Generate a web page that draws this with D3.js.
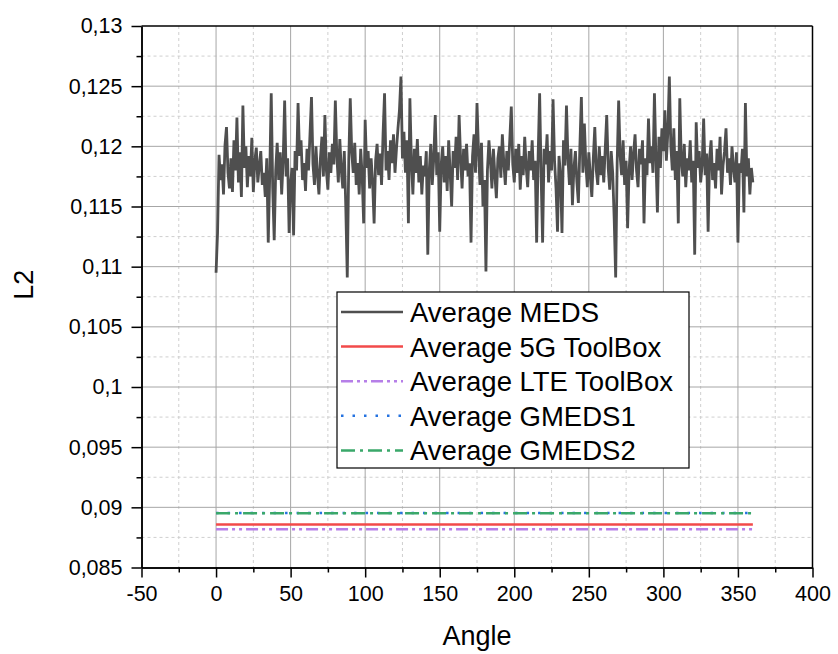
<!DOCTYPE html>
<html>
<head>
<meta charset="utf-8">
<script src="https://cdn.jsdelivr.net/npm/d3@7"></script>
<style>
  body { margin: 0; background: #fff; overflow: hidden; }
  svg { display: block; }
  svg text { font-family: Arial, "Liberation Sans", sans-serif; fill: #000; }
  .grid-major line { stroke: #a6a6a6; stroke-width: 1; }
  .grid-minor line { stroke: #cfcfcf; stroke-width: 1; stroke-dasharray: 3,3; }
</style>
</head>
<body>
<div id="chart"></div>
<script>
// valori
const xTicks = [-50, 0, 50, 100, 150, 200, 250, 300, 350, 400];
const yTicks = [0.085, 0.09, 0.095, 0.1, 0.105, 0.11, 0.115, 0.12, 0.125, 0.13];

// Average MEDS, un valore per grado (0..360)
const medsValues = [
  0.1095, 0.1128, 0.1193, 0.1172, 0.1185, 0.1160, 0.1201, 0.1216, 0.1178, 0.1165,
  0.1190, 0.1162, 0.1205, 0.1180, 0.1224, 0.1170, 0.1195, 0.1158, 0.1234, 0.1182,
  0.1200, 0.1166, 0.1192, 0.1175, 0.1207, 0.1162, 0.1188, 0.1199, 0.1170, 0.1184,
  0.1196, 0.1168, 0.1178, 0.1158, 0.1190, 0.1120, 0.1176, 0.1244, 0.1165, 0.1122,
  0.1180, 0.1203, 0.1172, 0.1195, 0.1160, 0.1188, 0.1238, 0.1175, 0.1190, 0.1128,
  0.1170, 0.1182, 0.1126, 0.1196, 0.1180, 0.1236, 0.1192, 0.1205, 0.1172, 0.1186,
  0.1163, 0.1198, 0.1180, 0.1210, 0.1241, 0.1185, 0.1168, 0.1200, 0.1176, 0.1160,
  0.1190, 0.1208, 0.1175, 0.1226, 0.1180, 0.1164, 0.1195, 0.1178, 0.1202, 0.1185,
  0.1238, 0.1192, 0.1170, 0.1206, 0.1180, 0.1165, 0.1196, 0.1150, 0.1091, 0.1188,
  0.1240, 0.1195, 0.1178, 0.1203, 0.1168, 0.1186, 0.1160, 0.1198, 0.1175, 0.1136,
  0.1222, 0.1182, 0.1196, 0.1165, 0.1190, 0.1170, 0.1136, 0.1188, 0.1202, 0.1176,
  0.1194, 0.1168, 0.1210, 0.1244, 0.1180, 0.1196, 0.1172, 0.1205, 0.1186, 0.1210,
  0.1178, 0.1198, 0.1215, 0.1230, 0.1258, 0.1190, 0.1212, 0.1178, 0.1205, 0.1136,
  0.1240, 0.1188, 0.1160, 0.1198, 0.1178, 0.1206, 0.1170, 0.1192, 0.1160, 0.1184,
  0.1175, 0.1196, 0.1110, 0.1180, 0.1202, 0.1168, 0.1190, 0.1226, 0.1176, 0.1195,
  0.1129, 0.1185, 0.1200, 0.1170, 0.1192, 0.1163, 0.1205, 0.1178, 0.1150, 0.1196,
  0.1182, 0.1208, 0.1172, 0.1226, 0.1190, 0.1165, 0.1198, 0.1180, 0.1202, 0.1175,
  0.1186, 0.1120, 0.1192, 0.1210, 0.1178, 0.1236, 0.1196, 0.1168, 0.1203, 0.1150,
  0.1172, 0.1096, 0.1180, 0.1205, 0.1188, 0.1165, 0.1198, 0.1176, 0.1157, 0.1190,
  0.1200, 0.1174, 0.1210, 0.1186, 0.1168, 0.1196, 0.1180, 0.1206, 0.1233, 0.1185,
  0.1170, 0.1198, 0.1178, 0.1202, 0.1164, 0.1192, 0.1176, 0.1208, 0.1183, 0.1166,
  0.1196, 0.1180, 0.1205, 0.1172, 0.1188, 0.1120, 0.1192, 0.1244, 0.1176, 0.1120,
  0.1198, 0.1185, 0.1210, 0.1170, 0.1196, 0.1180, 0.1239, 0.1188, 0.1165, 0.1129,
  0.1192, 0.1176, 0.1128, 0.1205, 0.1184, 0.1234, 0.1190, 0.1168, 0.1198, 0.1151,
  0.1182, 0.1196, 0.1170, 0.1153, 0.1200, 0.1241, 0.1178, 0.1219, 0.1185, 0.1166,
  0.1195, 0.1175, 0.1158, 0.1190, 0.1216, 0.1180, 0.1168, 0.1200, 0.1176, 0.1192,
  0.1170, 0.1198, 0.1226, 0.1182, 0.1164, 0.1196, 0.1178, 0.1140, 0.1091, 0.1186,
  0.1238, 0.1192, 0.1176, 0.1205, 0.1168, 0.1188, 0.1132, 0.1180, 0.1200, 0.1172,
  0.1194, 0.1210, 0.1180, 0.1166, 0.1198, 0.1185, 0.1205, 0.1136, 0.1190, 0.1176,
  0.1223, 0.1186, 0.1200, 0.1178, 0.1244, 0.1190, 0.1145, 0.1208, 0.1182, 0.1215,
  0.1196, 0.1230, 0.1188, 0.1212, 0.1258, 0.1200, 0.1180, 0.1215, 0.1172, 0.1196,
  0.1136, 0.1240, 0.1188, 0.1175, 0.1202, 0.1166, 0.1190, 0.1180, 0.1205, 0.1170,
  0.1188, 0.1110, 0.1220, 0.1182, 0.1196, 0.1170, 0.1185, 0.1223, 0.1176, 0.1194,
  0.1129, 0.1190, 0.1205, 0.1172, 0.1186, 0.1165, 0.1198, 0.1180, 0.1208, 0.1160,
  0.1184, 0.1196, 0.1215, 0.1178, 0.1190, 0.1168, 0.1200, 0.1182, 0.1170, 0.1195,
  0.1120, 0.1186, 0.1178, 0.1198, 0.1145, 0.1236, 0.1175, 0.1190, 0.1160, 0.1182,
  0.1170
];

// medie costanti (linee orizzontali da 0 a 360)
const avgRange = [0, 360];
const avgNames = ['Average 5G ToolBox', 'Average LTE ToolBox', 'Average GMEDS1', 'Average GMEDS2'];
const avgValues = [0.08858, 0.08817, 0.08952, 0.0895];

const seriesStyle = [
  { name: 'Average MEDS', color: '#4f4f4f', dash: null, width: 2.8 },
  { name: avgNames[0], color: '#f24a4a', dash: null, width: 2.5 },
  { name: avgNames[1], color: '#b67fe8', dash: '12,4,3,4,3,4', width: 2.5 },
  { name: avgNames[2], color: '#2472e0', dash: '2.5,9', width: 2.5 },
  { name: avgNames[3], color: '#3aa86a', dash: '14,5,3,5', width: 2.5 }
];

const width = 838, height = 654;
const margin = { top: 26, right: 25.5, bottom: 86.5, left: 141.5 };
const innerWidth = width - margin.left - margin.right;
const innerHeight = height - margin.top - margin.bottom;

const svg = d3.select('#chart').append('svg')
    .attr('width', width)
    .attr('height', height);
const g = svg.append('g').attr('transform', `translate(${margin.left},${margin.top})`);

const x = d3.scaleLinear().domain([-50, 400]).range([0, innerWidth]);
const y = d3.scaleLinear().domain([0.085, 0.13]).range([innerHeight, 0]);

// tacche minori a metà
const xMinor = xTicks.slice(0, -1).map((d, i) => (d + xTicks[i + 1]) / 2);
const yMinor = yTicks.slice(0, -1).map((d, i) => (d + yTicks[i + 1]) / 2);

// griglia
const gMinor = g.append('g').attr('class', 'grid-minor');
gMinor.selectAll('.vx').data(xMinor).join('line')
    .attr('x1', d => x(d)).attr('x2', d => x(d)).attr('y1', 0).attr('y2', innerHeight);
gMinor.selectAll('.hy').data(yMinor).join('line')
    .attr('y1', d => y(d)).attr('y2', d => y(d)).attr('x1', 0).attr('x2', innerWidth);
const gMajor = g.append('g').attr('class', 'grid-major');
gMajor.selectAll('.vx').data(xTicks.slice(1, -1)).join('line')
    .attr('x1', d => x(d)).attr('x2', d => x(d)).attr('y1', 0).attr('y2', innerHeight);
gMajor.selectAll('.hy').data(yTicks.slice(1, -1)).join('line')
    .attr('y1', d => y(d)).attr('y2', d => y(d)).attr('x1', 0).attr('x2', innerWidth);

// serie
const line = d3.line().x(d => x(d[0])).y(d => y(d[1]));
g.append('path')
    .datum(medsValues.map((v, i) => [i, v]))
    .attr('fill', 'none')
    .attr('stroke', seriesStyle[0].color)
    .attr('stroke-width', seriesStyle[0].width)
    .attr('stroke-linejoin', 'miter')
    .attr('d', line);

avgValues.forEach((v, i) => {
    const s = seriesStyle[i + 1];
    g.append('path')
        .datum(avgRange.map(a => [a, v]))
        .attr('fill', 'none')
        .attr('stroke', s.color)
        .attr('stroke-width', s.width)
        .attr('stroke-dasharray', s.dash)
        .attr('d', line);
});

// cornice
g.append('line').attr('x1', 0).attr('x2', innerWidth).attr('y1', 0).attr('y2', 0)
    .attr('stroke', '#000').attr('stroke-width', 1.5);
g.append('line').attr('x1', innerWidth).attr('x2', innerWidth).attr('y1', 0).attr('y2', innerHeight)
    .attr('stroke', '#000').attr('stroke-width', 1.5);

// assi
const fmt = d => String(+d.toFixed(3)).replace('.', ',');
const xAxis = g.append('g').attr('transform', `translate(0,${innerHeight})`)
    .call(d3.axisBottom(x).tickValues(xTicks).tickFormat(d => String(d))
        .tickSize(10).tickSizeOuter(0).tickPadding(8));
const yAxis = g.append('g')
    .call(d3.axisLeft(y).tickValues(yTicks).tickFormat(fmt).tickSize(10).tickSizeOuter(0).tickPadding(9));

g.append('g').attr('transform', `translate(0,${innerHeight})`)
    .call(d3.axisBottom(x).tickValues(xMinor).tickSize(5).tickFormat('').tickSizeOuter(0));
g.append('g')
    .call(d3.axisLeft(y).tickValues(yMinor).tickSize(5).tickFormat('').tickSizeOuter(0));

g.selectAll('.domain').attr('stroke', '#000').attr('stroke-width', 1.5);
g.selectAll('.tick line').attr('stroke', '#000').attr('stroke-width', 1.5);
xAxis.selectAll('text').style('font-size', '21.5px');
yAxis.selectAll('text').style('font-size', '21.5px');

// titoli assi
svg.append('text')
    .attr('x', margin.left + x(175)).attr('y', 645)
    .attr('text-anchor', 'middle').style('font-size', '27px').text('Angle');
svg.append('text')
    .attr('transform', `translate(33,${margin.top + innerHeight / 2 - 12}) rotate(-90)`)
    .attr('text-anchor', 'middle').style('font-size', '27px').text('L2');

// legenda
const legend = svg.append('g').attr('transform', 'translate(337,292)');
legend.append('rect')
    .attr('width', 352).attr('height', 176)
    .attr('fill', '#fff').attr('stroke', '#000').attr('stroke-width', 1.2);
seriesStyle.forEach((s, i) => {
    const cy = 20 + i * 34.6;
    legend.append('line')
        .attr('x1', 4).attr('x2', 66).attr('y1', cy).attr('y2', cy)
        .attr('stroke', s.color).attr('stroke-width', Math.min(s.width, 2.5))
        .attr('stroke-dasharray', s.dash);
    legend.append('text')
        .attr('x', 73).attr('y', cy).attr('dy', '0.36em')
        .style('font-size', '27.5px').text(s.name);
});
</script>
</body>
</html>
